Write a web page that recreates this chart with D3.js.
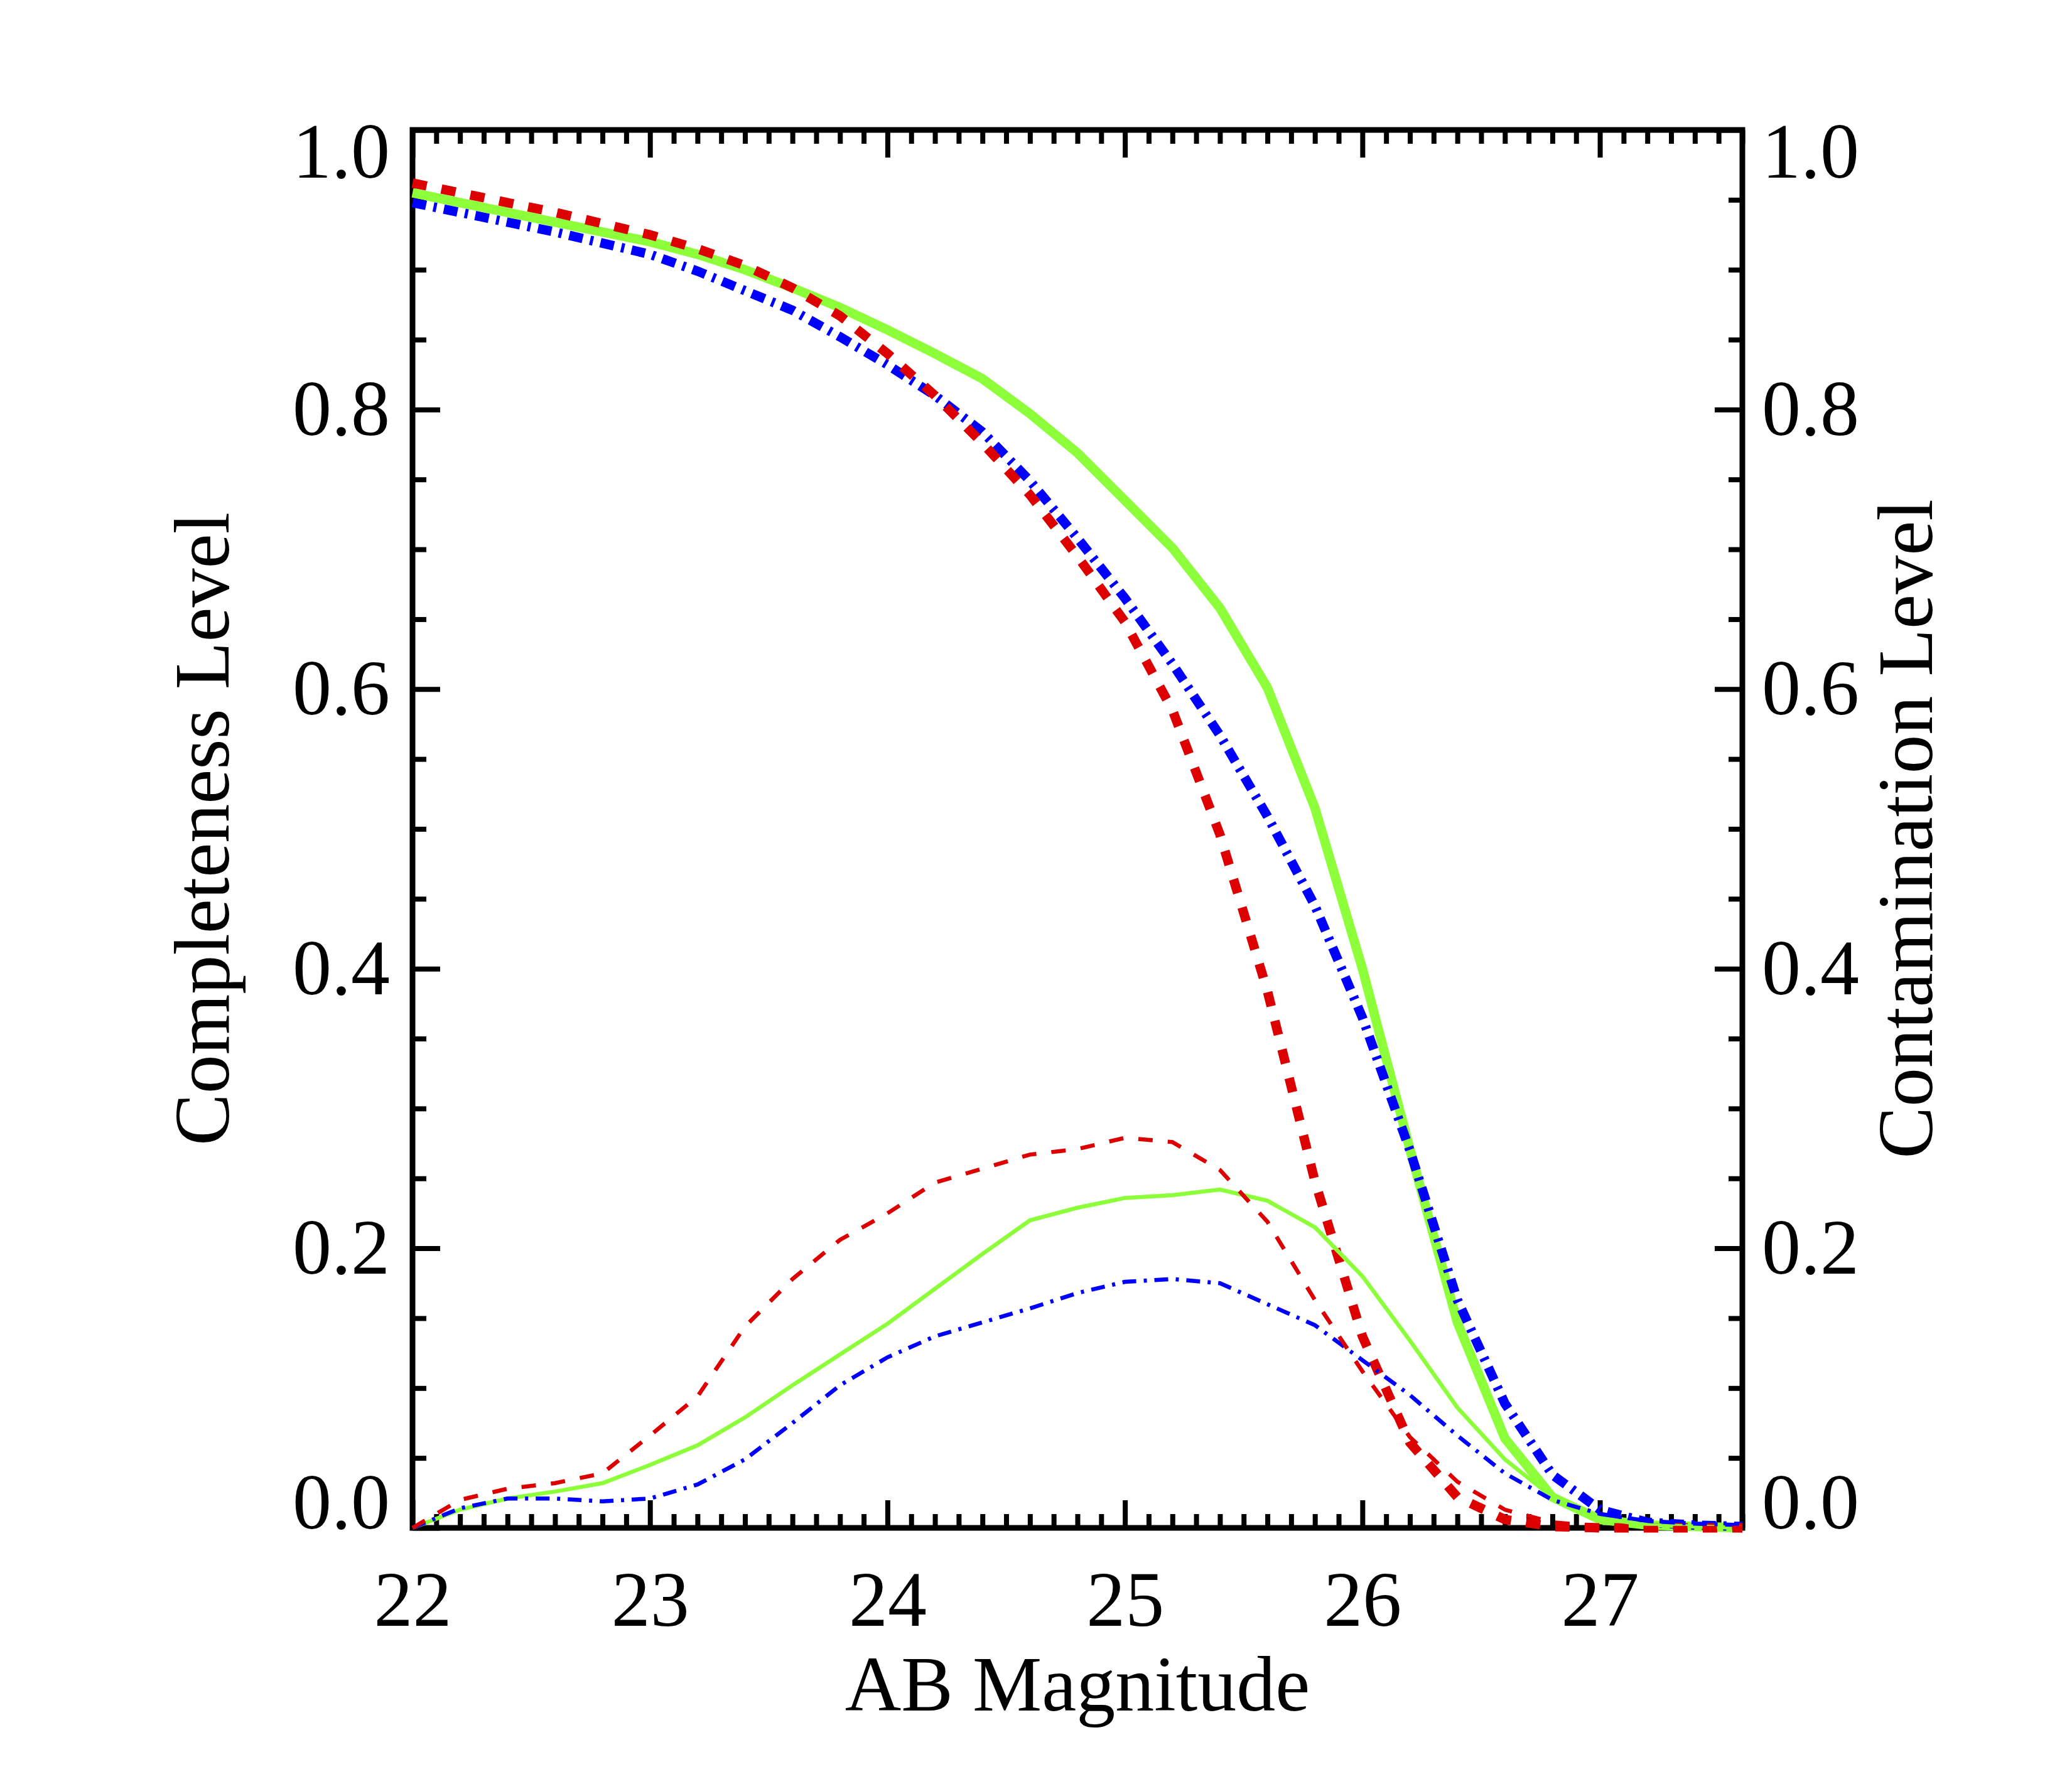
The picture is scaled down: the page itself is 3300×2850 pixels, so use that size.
<!DOCTYPE html>
<html>
<head>
<meta charset="utf-8">
<script src="https://cdn.jsdelivr.net/npm/d3@7"></script>
<style>
  body { margin: 0; background: #ffffff; }
  text { font-family: "Liberation Serif", "Times New Roman", serif; fill: #000; }
</style>
</head>
<body>
<div id="chart"></div>
<script>
// magnitude bins (x)
let mags = [22.0, 22.2, 22.4, 22.6, 22.8, 23.0, 23.2, 23.4, 23.6, 23.8,
            24.0, 24.2, 24.4, 24.6, 24.8, 25.0, 25.2, 25.4, 25.6, 25.8,
            26.0, 26.2, 26.4, 26.6, 26.8, 27.0, 27.2, 27.4, 27.6];

// completeness (thick lines)
let complGreen = [0.955, 0.948, 0.941, 0.934, 0.927, 0.920, 0.911, 0.900, 0.887, 0.873,
                  0.857, 0.840, 0.822, 0.797, 0.769, 0.735, 0.701, 0.658, 0.601, 0.515,
                  0.400, 0.271, 0.147, 0.064, 0.022, 0.006, 0.002, 0.001, 0.000];
let complRed = [0.962, 0.955, 0.948, 0.941, 0.933, 0.925, 0.915, 0.903, 0.887, 0.867,
                0.840, 0.810, 0.776, 0.739, 0.695, 0.648, 0.585, 0.496, 0.384, 0.248,
                0.137, 0.061, 0.022, 0.006, 0.001, 0.000, 0.000, 0.000, 0.000];
let complBlue = [0.948, 0.941, 0.934, 0.927, 0.919, 0.911, 0.899, 0.885, 0.871, 0.852,
                 0.832, 0.810, 0.784, 0.749, 0.708, 0.665, 0.618, 0.567, 0.509, 0.445,
                 0.365, 0.270, 0.163, 0.089, 0.038, 0.013, 0.004, 0.002, 0.001];

// contamination (thin lines)
let contGreen = [0.000, 0.013, 0.021, 0.026, 0.032, 0.045, 0.059, 0.079, 0.102, 0.124,
                 0.146, 0.171, 0.196, 0.220, 0.229, 0.236, 0.238, 0.242, 0.234, 0.215,
                 0.180, 0.134, 0.086, 0.049, 0.022, 0.007, 0.002, 0.001, 0.000];
let contRed = [0.000, 0.020, 0.028, 0.032, 0.039, 0.066, 0.094, 0.144, 0.178, 0.206,
               0.225, 0.247, 0.257, 0.267, 0.271, 0.279, 0.276, 0.256, 0.219, 0.163,
               0.112, 0.065, 0.033, 0.013, 0.004, 0.001, 0.000, 0.000, 0.000];
let contBlue = [0.000, 0.014, 0.021, 0.021, 0.019, 0.021, 0.031, 0.049, 0.075, 0.102,
                0.122, 0.137, 0.147, 0.157, 0.168, 0.176, 0.178, 0.175, 0.160, 0.145,
                0.120, 0.095, 0.066, 0.039, 0.020, 0.010, 0.005, 0.003, 0.002];

// tick labels
let xTicks = [22, 23, 24, 25, 26, 27];
let yTicks = [0.0, 0.2, 0.4, 0.6, 0.8, 1.0];

let xTitle = "AB Magnitude";
let yTitleLeft = "Completeness Level";
let yTitleRight = "Contamination Level";

// plot box (note: "top" is taken by window.top, so use other names)
var boxL = 657, boxR = 2775, boxT = 207, boxB = 2434;
var fontSize = 124;

var svg = d3.select("#chart")
    .append("svg")
    .attr("width", 3300)
    .attr("height", 2850)
    .style("background", "#fff");

var x = d3.scaleLinear().domain([22, 27.6]).range([boxL, boxR]);
var y = d3.scaleLinear().domain([0, 1]).range([boxB, boxT]);

// minor ticks
var xMinor = d3.range(22, 27.65, 0.1).filter(function (d) {
    return Math.abs(d - Math.round(d)) > 0.01;
});
var yMinor = d3.range(0, 1.001, 0.05).filter(function (d) {
    return Math.abs(d * 5 - Math.round(d * 5)) > 0.01;
});

function styleAxis(g) {
    g.select(".domain").remove();
    g.selectAll(".tick line").attr("stroke", "#000").attr("stroke-width", 8);
    g.selectAll("text").style("font-size", fontSize + "px")
        .style("font-family", "'Liberation Serif', 'Times New Roman', serif");
}

// bottom axis
svg.append("g")
    .attr("transform", "translate(0," + boxB + ")")
    .call(d3.axisBottom(x).tickValues(xTicks).tickSize(-44).tickSizeOuter(0)
        .tickPadding(68).tickFormat(d3.format("d")))
    .call(styleAxis);
svg.append("g")
    .attr("transform", "translate(0," + boxB + ")")
    .call(d3.axisBottom(x).tickValues(xMinor).tickSize(-22).tickSizeOuter(0).tickFormat(""))
    .call(styleAxis);

// top axis
svg.append("g")
    .attr("transform", "translate(0," + boxT + ")")
    .call(d3.axisTop(x).tickValues(xTicks).tickSize(-44).tickSizeOuter(0).tickFormat(""))
    .call(styleAxis);
svg.append("g")
    .attr("transform", "translate(0," + boxT + ")")
    .call(d3.axisTop(x).tickValues(xMinor).tickSize(-22).tickSizeOuter(0).tickFormat(""))
    .call(styleAxis);

// IDL style: end labels kept inside the axis range
function shiftEnds(g) {
    g.selectAll(".tick text").attr("dy", function (d) {
        if (d === 0) return "0px";
        if (d === 1) return "75px";
        return "40px";
    });
}

// left axis
svg.append("g")
    .attr("transform", "translate(" + boxL + ",0)")
    .call(d3.axisLeft(y).tickValues(yTicks).tickSize(-44).tickSizeOuter(0)
        .tickPadding(36).tickFormat(d3.format(".1f")))
    .call(styleAxis)
    .call(shiftEnds);
svg.append("g")
    .attr("transform", "translate(" + boxL + ",0)")
    .call(d3.axisLeft(y).tickValues(yMinor).tickSize(-22).tickSizeOuter(0).tickFormat(""))
    .call(styleAxis);

// right axis
svg.append("g")
    .attr("transform", "translate(" + boxR + ",0)")
    .call(d3.axisRight(y).tickValues(yTicks).tickSize(-44).tickSizeOuter(0)
        .tickPadding(31).tickFormat(d3.format(".1f")))
    .call(styleAxis)
    .call(shiftEnds);
svg.append("g")
    .attr("transform", "translate(" + boxR + ",0)")
    .call(d3.axisRight(y).tickValues(yMinor).tickSize(-22).tickSizeOuter(0).tickFormat(""))
    .call(styleAxis);

// frame
svg.append("rect")
    .attr("x", boxL)
    .attr("y", boxT)
    .attr("width", boxR - boxL)
    .attr("height", boxB - boxT)
    .attr("fill", "none")
    .attr("stroke", "#000")
    .attr("stroke-width", 9);

// lines
var line = d3.line()
    .x(function (d) { return x(d[0]); })
    .y(function (d) { return y(d[1]); });

var series = [
    { vals: complGreen, color: "#8cff3a", width: 15, dash: null },
    { vals: complBlue, color: "#0000ff", width: 15, dash: "22,12,5,12" },
    { vals: complRed, color: "#dc0000", width: 15, dash: "23,24" },
    { vals: contGreen, color: "#8cff3a", width: 6.5, dash: null },
    { vals: contBlue, color: "#0000ff", width: 6.5, dash: "22,12,5,12" },
    { vals: contRed, color: "#dc0000", width: 6.5, dash: "23,24" }
];

series.forEach(function (s) {
    var pts = mags.map(function (m, i) { return [m, s.vals[i]]; });
    svg.append("path")
        .datum(pts)
        .attr("d", line)
        .attr("fill", "none")
        .attr("stroke", s.color)
        .attr("stroke-width", s.width)
        .attr("stroke-linejoin", "miter")
        .attr("stroke-linecap", "butt")
        .attr("stroke-dasharray", s.dash);
});

// axis titles
svg.append("text")
    .attr("x", (boxL + boxR) / 2)
    .attr("y", 2725)
    .attr("text-anchor", "middle")
    .style("font-size", fontSize + "px")
    .text(xTitle);

svg.append("text")
    .attr("transform", "translate(364," + (boxT + boxB) / 2 + ")rotate(-90)")
    .attr("text-anchor", "middle")
    .style("font-size", fontSize + "px")
    .text(yTitleLeft);

svg.append("text")
    .attr("transform", "translate(3077," + (boxT + boxB) / 2 + ")rotate(-90)")
    .attr("text-anchor", "middle")
    .style("font-size", fontSize + "px")
    .text(yTitleRight);
</script>
</body>
</html>
